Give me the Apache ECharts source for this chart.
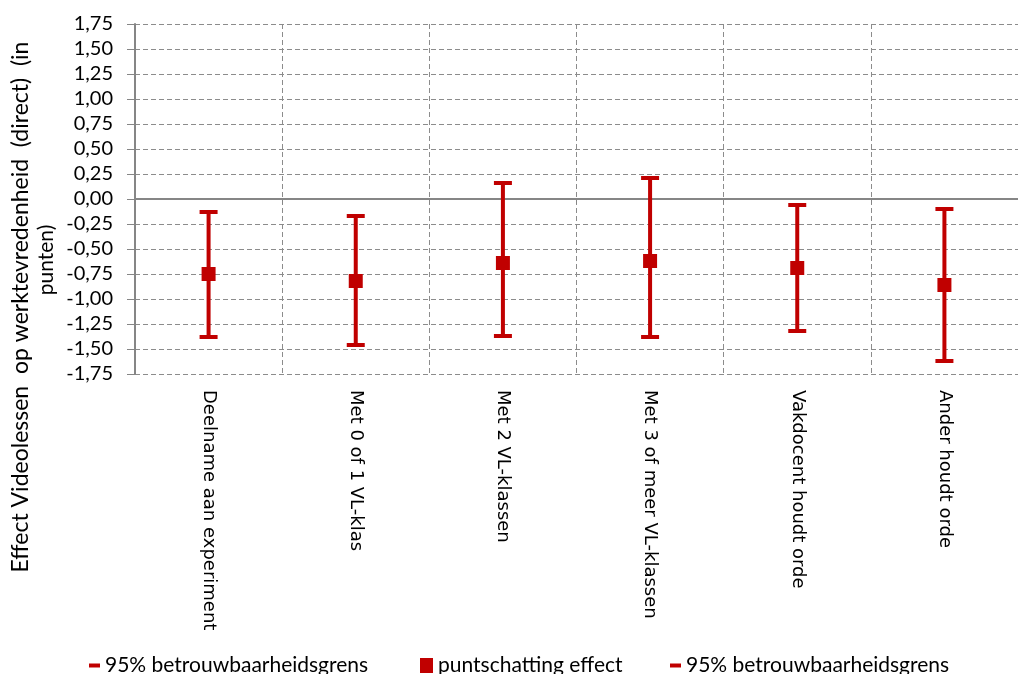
<!DOCTYPE html>
<html>
<head>
<meta charset="utf-8">
<script src="https://cdn.jsdelivr.net/npm/echarts@6/dist/echarts.min.js"></script>
<style>html,body{margin:0;padding:0;background:#fff;}#chart{width:1018px;height:674px;}</style>
</head>
<body>
<div id="chart"></div>
<script>
const categories = ['Deelname aan experiment','Met 0 of 1 VL-klas','Met 2 VL-klassen','Met 3 of meer VL-klassen','Vakdocent houdt orde','Ander houdt orde'];
const lowerBound = [-1.38, -1.46, -1.37, -1.38, -1.32, -1.62];
const pointEstimate = [-0.75, -0.82, -0.64, -0.62, -0.69, -0.86];
const upperBound = [-0.13, -0.17, 0.16, 0.21, -0.06, -0.10];
const yTicks = {min: -1.75, max: 1.75, interval: 0.25};
const legendLower = '95% betrouwbaarheidsgrens';
const legendPoint = 'puntschatting effect';
const legendUpper = '95% betrouwbaarheidsgrens ';
const yTitleLine1 = 'Effect Videolessen  op werktevredenheid  (direct)  (in';
const yTitleLine2 = 'punten)';

const RED = '#C00000';
const AX = '#868686';
const GRID = '#8c8c8c';
const chart = echarts.init(document.getElementById('chart'), null, {renderer: 'canvas'});
const ciData = categories.map((c, i) => [i, lowerBound[i], upperBound[i]]);
const legendText = {fontFamily: 'Lato', fontSize: 21, color: '#000'};

chart.setOption({
  animation: false,
  backgroundColor: '#fff',
  grid: {left: 135, top: 24, width: 892, height: 350, containLabel: false},
  xAxis: [
    {
      type: 'category', data: categories, position: 'bottom', boundaryGap: true,
      axisLine: {show: false, onZero: false},
      axisTick: {show: false},
      splitLine: {show: true, interval: 0, lineStyle: {color: GRID, width: 1, type: [5, 3]}},
      axisLabel: {interval: 0, rotate: -90, margin: 16, fontFamily: 'DejaVu Sans', fontSize: 18, color: '#000'}
    },
    {
      type: 'category', data: categories, position: 'bottom', boundaryGap: true,
      axisLine: {show: true, onZero: true, lineStyle: {color: AX, width: 2}},
      axisTick: {show: true, length: 5, interval: 0, lineStyle: {color: AX, width: 1}},
      axisLabel: {show: false},
      splitLine: {show: false}
    }
  ],
  yAxis: {
    type: 'value', min: yTicks.min, max: yTicks.max, interval: yTicks.interval,
    axisLine: {show: true, lineStyle: {color: AX, width: 2}},
    axisTick: {show: true, length: 8, lineStyle: {color: AX, width: 1}},
    splitLine: {show: true, lineStyle: {color: GRID, width: 1, type: [5, 3]}},
    axisLabel: {margin: 22, fontFamily: 'Lato', fontSize: 20, color: '#000',
      formatter: v => v.toFixed(2).replace('.', ',')}
  },
  legend: [
    {data: [legendLower], left: 84, top: 650, itemWidth: 11, itemHeight: 4, icon: 'rect', selectedMode: false, textStyle: legendText},
    {data: [legendPoint], left: 415, top: 650, itemWidth: 13, itemHeight: 15, icon: 'rect', selectedMode: false, textStyle: legendText},
    {data: [legendUpper], left: 665, top: 650, itemWidth: 11, itemHeight: 4, icon: 'rect', selectedMode: false, textStyle: legendText,
      formatter: n => n.trim()}
  ],
  graphic: [
    {type: 'text', x: 21, y: 307, rotation: Math.PI / 2,
      style: {text: yTitleLine1, fontFamily: 'Lato', fontSize: 23, fill: '#000', textAlign: 'center', textVerticalAlign: 'middle'}},
    {type: 'text', x: 46, y: 260, rotation: Math.PI / 2,
      style: {text: yTitleLine2, fontFamily: 'Lato', fontSize: 21, fill: '#000', textAlign: 'center', textVerticalAlign: 'middle'}}
  ],
  series: [
    {
      type: 'custom', name: 'ci', data: ciData, z: 2, silent: true,
      renderItem: function (params, api) {
        const a = api.coord([api.value(0), api.value(1)]);
        const b = api.coord([api.value(0), api.value(2)]);
        return {type: 'line', shape: {x1: a[0], y1: a[1], x2: b[0], y2: b[1]}, style: {stroke: RED, lineWidth: 4}};
      }
    },
    {type: 'scatter', name: legendLower, data: lowerBound, symbol: 'rect', symbolSize: [18, 4], itemStyle: {color: RED, opacity: 1}, z: 3},
    {type: 'scatter', name: legendPoint, data: pointEstimate, symbol: 'rect', symbolSize: [14, 14], itemStyle: {color: RED, opacity: 1}, z: 4},
    {type: 'scatter', name: legendUpper, data: upperBound, symbol: 'rect', symbolSize: [18, 4], itemStyle: {color: RED, opacity: 1}, z: 3}
  ]
});
</script>
</body>
</html>
